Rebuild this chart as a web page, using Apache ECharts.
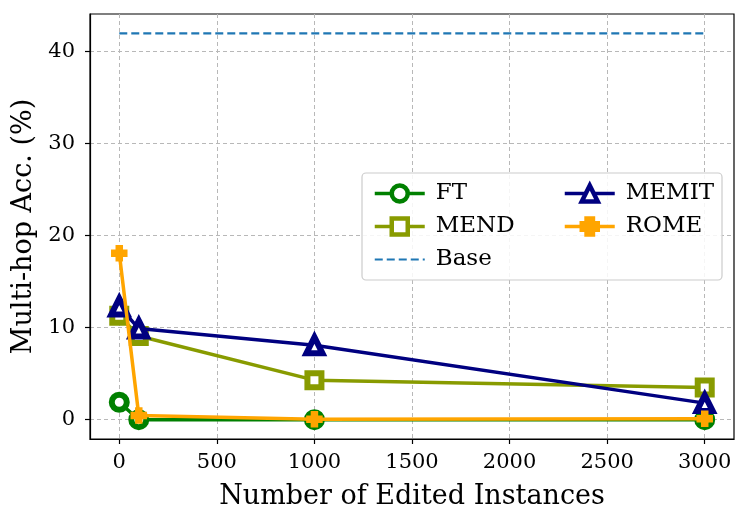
<!DOCTYPE html>
<html>
<head>
<meta charset="utf-8">
<script src="https://cdn.jsdelivr.net/npm/echarts@6/dist/echarts.min.js"></script>
<style>
html, body { margin: 0; padding: 0; background: #fff; }
#chart { width: 748px; height: 523px; }
</style>
</head>
<body>
<div id="chart"></div>
<script>
// edited instances
var editCounts = [0, 100, 1000, 3000];
var ftAcc = [1.9, 0, 0, 0];
var mendAcc = [11.3, 9.1, 4.3, 3.5];
var memitAcc = [12.3, 9.9, 8.1, 1.8];
var romeAcc = [18.1, 0.45, 0.05, 0.1];
var baseAcc = 42;
var xTicks = [0, 500, 1000, 1500, 2000, 2500, 3000];
var yTicks = [0, 10, 20, 30, 40];

var font = 'DejaVu Serif';

function pairs(xs, ys) {
    var out = [];
    for (var i = 0; i < xs.length; i++) out.push([xs[i], ys[i]]);
    return out;
}

var plusPath = 'path://M3,0L7,0L7,3L10,3L10,7L7,7L7,10L3,10L3,7L0,7L0,3L3,3Z';

function lineSeries(name, data, color, symbol, size, z, hollow) {
    return {
        name: name,
        type: 'line',
        data: data,
        symbol: symbol,
        symbolSize: size,
        z: z,
        lineStyle: { color: color, width: 3.5 },
        itemStyle: hollow
            ? { color: '#fff', borderColor: color, borderWidth: 6 }
            : { color: color, borderColor: color, borderWidth: 1.5 },
        emphasis: { disabled: true }
    };
}

var chartDom = document.getElementById('chart');
var myChart = echarts.init(chartDom);
var legendText = {
    fontFamily: font,
    fontSize: 23,
    lineHeight: 23,
    color: '#000',
    padding: [0, 0, 0, 6]
};
var legendCommon = {
    orient: 'vertical',
    top: 177,
    itemWidth: 50,
    itemHeight: 20,
    itemGap: 10,
    selectedMode: false,
    textStyle: legendText,
    lineStyle: { width: 3.5 },
    itemStyle: { borderWidth: 4.5 },
    z: 5
};
var option = {
    animation: false,
    grid: {
        left: 90,
        right: 14,
        top: 14,
        bottom: 84,
        show: true,
        borderColor: '#000',
        borderWidth: 1.2
    },
    xAxis: {
        type: 'value',
        min: -150,
        max: 3150,
        name: 'Number of Edited Instances',
        nameLocation: 'middle',
        nameGap: 44,
        nameTextStyle: { fontFamily: font, fontSize: 27, color: '#000' },
        axisLine: { show: true, onZero: false, lineStyle: { color: '#000', width: 1.2 } },
        axisTick: { show: true, inside: false, length: 5, customValues: xTicks, lineStyle: { color: '#000', width: 1.2 } },
        axisLabel: {
            customValues: xTicks, margin: 13, fontFamily: font, fontSize: 21, color: '#000',
            formatter: function (v) { return String(v); }
        },
        splitLine: { show: true, lineStyle: { color: '#b8b8b8', type: [4, 3], width: 1 } }
    },
    yAxis: {
        type: 'value',
        min: -2.1,
        max: 44.1,
        name: 'Multi-hop Acc. (%)',
        nameLocation: 'middle',
        nameGap: 49,
        nameRotate: 90,
        nameTextStyle: { fontFamily: font, fontSize: 27, color: '#000' },
        axisLine: { show: true, onZero: false, lineStyle: { color: '#000', width: 1.2 } },
        axisTick: { show: true, inside: false, length: 5, customValues: yTicks, lineStyle: { color: '#000', width: 1.2 } },
        axisLabel: {
            customValues: yTicks, margin: 15, fontFamily: font, fontSize: 21, color: '#000',
            formatter: function (v) { return String(v); }
        },
        splitLine: { show: true, lineStyle: { color: '#b8b8b8', type: [4, 3], width: 1 } }
    },
    graphic: [{
        type: 'rect',
        z: 3,
        shape: { x: 362, y: 173, width: 360, height: 107, r: 4 },
        style: { fill: 'rgba(255,255,255,0.85)', stroke: '#cccccc', lineWidth: 1.2 }
    }],
    legend: [
        Object.assign({}, legendCommon, {
            left: 368,
            data: ['FT', 'MEND', {
                name: 'Base',
                itemStyle: { color: 'rgba(0,0,0,0)', borderWidth: 0 },
                lineStyle: { width: 2.2, type: [8, 4] }
            }]
        }),
        Object.assign({}, legendCommon, {
            left: 558,
            data: ['MEMIT', 'ROME']
        })
    ],
    series: [
        lineSeries('FT', pairs(editCounts, ftAcc), '#008000', 'circle', 15, 2, true),
        lineSeries('MEND', pairs(editCounts, mendAcc), '#889b00', 'rect', 14, 3, true),
        {
            name: 'Base',
            type: 'line',
            data: pairs([editCounts[0], editCounts[editCounts.length - 1]], [baseAcc, baseAcc]),
            symbol: 'none',
            z: 4,
            lineStyle: { color: '#1f77b4', width: 2.2, type: [8, 4] },
            itemStyle: { color: '#1f77b4' },
            emphasis: { disabled: true }
        },
        lineSeries('MEMIT', pairs(editCounts, memitAcc), '#000080', 'triangle', 16, 5, true),
        lineSeries('ROME', pairs(editCounts, romeAcc), '#ffa500', plusPath, 15, 6, false)
    ]
};

myChart.setOption(option);
</script>
</body>
</html>
